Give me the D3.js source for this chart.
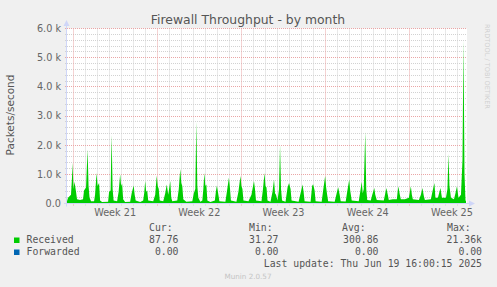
<!DOCTYPE html>
<html>
<head>
<meta charset="utf-8">
<script src="https://cdn.jsdelivr.net/npm/d3@7"></script>
<style>
  body { margin: 0; background: #f0f0f0; }
  svg { display: block; }
</style>
</head>
<body>
<div id="chart"></div>
<script>
// time axis: hours since startTime (2-hour munin samples)
const startTime = Date.UTC(2025, 4, 18, 12);
const spanHours = 798;

const hours = [
  0, 2, 5, 8, 10, 11, 13, 15, 18, 20, 26, 32, 34, 38, 41, 43, 45, 48, 54, 56,
  59, 61, 64, 66, 70, 82, 84, 87, 89, 91, 93, 100, 103, 106, 108, 110, 112, 116, 126, 129,
  133, 135, 137, 146, 152, 154, 156, 158, 160, 162, 172, 176, 179, 181, 183, 185, 192, 196, 199, 202,
  206, 208, 210, 220, 223, 226, 228, 230, 232, 238, 250, 253, 256, 258, 260, 262, 266, 270, 272, 274,
  276, 278, 280, 286, 295, 297, 299, 302, 304, 316, 319, 323, 325, 327, 338, 342, 346, 348, 350, 352,
  362, 368, 373, 375, 377, 388, 391, 394, 396, 398, 400, 406, 410, 413, 415, 417, 420, 423, 425, 427,
  429, 436, 440, 443, 446, 448, 462, 466, 470, 472, 474, 486, 489, 491, 494, 496, 508, 511, 515, 517,
  519, 521, 534, 538, 541, 544, 546, 556, 559, 563, 565, 568, 582, 585, 588, 590, 592, 595, 597, 599,
  606, 609, 613, 615, 618, 632, 635, 637, 640, 642, 650, 658, 661, 664, 666, 674, 682, 686, 688, 690,
  702, 706, 709, 712, 714, 726, 729, 733, 735, 740, 745, 748, 756, 759, 761, 763, 766, 772, 775, 778,
  781, 786, 789, 791, 793, 795, 796
];

const received = [
  80, 200, 250, 300, 900, 1400, 500, 750, 400, 150, 120, 150, 450, 550, 1850, 600, 200, 80, 80, 300,
  1050, 600, 700, 100, 50, 60, 400, 450, 2350, 500, 100, 80, 400, 1000, 600, 690, 150, 50, 60, 350,
  620, 300, 100, 50, 100, 350, 770, 400, 450, 100, 80, 300, 950, 600, 500, 100, 80, 350, 650, 300,
  770, 200, 80, 100, 500, 1180, 700, 600, 150, 60, 80, 350, 500, 2800, 600, 200, 60, 100, 500, 1050,
  600, 650, 100, 50, 100, 400, 620, 300, 80, 60, 400, 880, 550, 100, 60, 400, 940, 600, 500, 100,
  80, 300, 770, 500, 100, 80, 500, 1050, 600, 550, 100, 60, 400, 820, 350, 300, 100, 500, 2000, 500,
  100, 60, 550, 700, 500, 100, 60, 350, 650, 400, 80, 60, 600, 660, 450, 80, 60, 450, 940, 550,
  300, 80, 60, 350, 560, 300, 80, 70, 400, 820, 450, 100, 80, 400, 750, 350, 500, 2450, 500, 120,
  100, 300, 530, 300, 120, 100, 350, 530, 300, 120, 150, 150, 590, 300, 150, 150, 200, 590, 300, 150,
  120, 300, 530, 250, 120, 150, 400, 700, 200, 200, 530, 200, 200, 500, 1700, 600, 200, 150, 350, 590,
  200, 300, 1500, 5600, 1000, 100, 90
];

const yTicks = [0, 1000, 2000, 3000, 4000, 5000, 6000];
const weekStarts = ["2025-05-19", "2025-05-26", "2025-06-02", "2025-06-09", "2025-06-16"];
const weekLabels = ["Week 21", "Week 22", "Week 23", "Week 24", "Week 25"];

const seriesNames = ["Received", "Forwarded"];
const seriesColors = ["#00cc00", "#0066b3"];
const curValues = ["87.76", "0.00"];
const minValues = ["31.27", "0.00"];
const avgValues = ["300.86", "0.00"];
const maxValues = ["21.36k", "0.00"];

const width = 497;
const height = 287;
const plot = { left: 67, right: 467, top: 28.5, bottom: 203.5 };

const svg = d3.select('#chart')
  .append('svg')
  .attr('width', width)
  .attr('height', height)
  .style('font-family', "'DejaVu Sans', sans-serif");

svg.append('rect').attr('width', width).attr('height', height).attr('fill', '#f0f0f0');

const x = d3.scaleUtc()
  .domain([new Date(startTime), new Date(startTime + spanHours * 3600e3)])
  .range([plot.left, plot.right]);
const y = d3.scaleLinear().domain([0, 6000]).range([plot.bottom, plot.top]);

svg.append('rect')
  .attr('x', plot.left).attr('y', plot.top)
  .attr('width', plot.right - plot.left).attr('height', plot.bottom - plot.top)
  .attr('fill', '#ffffff');

const crisp = (v) => Math.round(v - 0.5) + 0.5;
const grid = svg.append('g');

// minor grid: every 200 packets, every day
const minorY = d3.range(200, 6000, 200).filter((v) => v % 1000 !== 0);
const days = d3.utcDay.range(x.domain()[0], x.domain()[1]).filter((d) => d.getUTCDay() !== 1);
const mondays = d3.utcMonday.range(x.domain()[0], x.domain()[1]);

grid.selectAll('.minor-y')
  .data(minorY)
  .enter()
  .append('line')
  .attr('x1', plot.left - 2).attr('x2', plot.right)
  .attr('y1', (d) => crisp(y(d))).attr('y2', (d) => crisp(y(d)))
  .style('stroke', '#d2d2d2').style('stroke-dasharray', '1,1');

grid.selectAll('.minor-x')
  .data(days)
  .enter()
  .append('line')
  .attr('x1', (d) => crisp(x(d))).attr('x2', (d) => crisp(x(d)))
  .attr('y1', plot.top).attr('y2', plot.bottom + 2)
  .style('stroke', '#d2d2d2').style('stroke-dasharray', '1,1');

grid.selectAll('.major-y')
  .data(yTicks.filter((v) => v > 0))
  .enter()
  .append('line')
  .attr('x1', plot.left - 2).attr('x2', plot.right)
  .attr('y1', (d) => crisp(y(d))).attr('y2', (d) => crisp(y(d)))
  .style('stroke', '#eaa6a6').style('stroke-dasharray', '1,1');

grid.selectAll('.major-x')
  .data(mondays)
  .enter()
  .append('line')
  .attr('x1', (d) => crisp(x(d))).attr('x2', (d) => crisp(x(d)))
  .attr('y1', plot.top).attr('y2', plot.bottom + 2)
  .style('stroke', '#eaa6a6').style('stroke-dasharray', '1,1');

// received area
const points = hours.map((h, i) => ({ t: new Date(startTime + h * 3600e3), v: received[i] }));
const area = d3.area()
  .x((d) => x(d.t))
  .y0(y(0))
  .y1((d) => y(d.v));

svg.append('path')
  .datum(points)
  .attr('d', area)
  .style('fill', seriesColors[0]);

// axes with arrows
const axisColor = '#cfd6f8';
svg.append('line')
  .attr('x1', plot.left - 0.5).attr('x2', plot.left - 0.5)
  .attr('y1', plot.bottom + 3).attr('y2', 24)
  .style('stroke', axisColor);
svg.append('path')
  .attr('d', `M${plot.left - 3.5},26 L${plot.left - 0.5},20 L${plot.left + 2.5},26 Z`)
  .style('fill', axisColor);
svg.append('line')
  .attr('x1', plot.left - 3).attr('x2', plot.right + 3)
  .attr('y1', plot.bottom).attr('y2', plot.bottom)
  .style('stroke', axisColor);
svg.append('path')
  .attr('d', `M${plot.right + 2},${plot.bottom - 3} L${plot.right + 8},${plot.bottom} L${plot.right + 2},${plot.bottom + 3} Z`)
  .style('fill', axisColor);

// y labels
svg.selectAll('.ylabel')
  .data(yTicks)
  .enter()
  .append('text')
  .attr('x', 61)
  .attr('y', (d) => y(d))
  .attr('dy', '0.35em')
  .attr('text-anchor', 'end')
  .style('font-size', '9.7px')
  .style('fill', '#666')
  .text((d) => (d === 0 ? '0.0' : (d / 1000).toFixed(1) + ' k'));

// week labels centered on each week
svg.selectAll('.xlabel')
  .data(weekStarts)
  .enter()
  .append('text')
  .attr('x', (d) => x(new Date(Date.parse(d) + 3.5 * 86400e3)))
  .attr('y', 216)
  .attr('text-anchor', 'middle')
  .style('font-size', '9.7px')
  .style('fill', '#666')
  .text((d, i) => weekLabels[i]);

// title and axis title
svg.append('text')
  .attr('x', 248).attr('y', 24)
  .attr('text-anchor', 'middle')
  .style('font-size', '12.4px')
  .style('fill', '#555')
  .text('Firewall Throughput - by month');

svg.append('text')
  .attr('transform', 'translate(14,115) rotate(-90)')
  .attr('text-anchor', 'middle')
  .style('font-size', '10.5px')
  .style('fill', '#555')
  .text('Packets/second');

svg.append('text')
  .attr('transform', 'translate(485,24) rotate(90)')
  .style('font-size', '6.6px')
  .style('fill', '#d0d0d0')
  .text('RRDTOOL / TOBI OETIKER');

// legend
const legend = svg.append('g')
  .style('font-family', "'DejaVu Sans Mono', monospace")
  .style('font-size', '9.8px')
  .style('fill', '#555');

const headers = [['Cur:', 149], ['Min:', 249], ['Avg:', 342], ['Max:', 447]];
headers.forEach(([label, hx]) => {
  legend.append('text').attr('x', hx).attr('y', 231).text(label);
});

const columns = [[curValues, 178.5], [minValues, 278.5], [avgValues, 378.5], [maxValues, 482]];
seriesNames.forEach((name, i) => {
  const rowY = 243 + i * 12;
  legend.append('rect')
    .attr('x', 14).attr('y', rowY - 5.5)
    .attr('width', 5.5).attr('height', 5.5)
    .style('fill', seriesColors[i]);
  legend.append('text').attr('x', 26.5).attr('y', rowY).text(name);
  columns.forEach(([vals, cx]) => {
    legend.append('text')
      .attr('x', cx).attr('y', rowY)
      .attr('text-anchor', 'end')
      .text(vals[i]);
  });
});

legend.append('text')
  .attr('x', 482).attr('y', 267)
  .attr('text-anchor', 'end')
  .text('Last update: Thu Jun 19 16:00:15 2025');

svg.append('text')
  .attr('x', 248).attr('y', 279)
  .attr('text-anchor', 'middle')
  .style('font-size', '7.2px')
  .style('fill', '#c4c4c4')
  .text('Munin 2.0.57');
</script>
</body>
</html>
